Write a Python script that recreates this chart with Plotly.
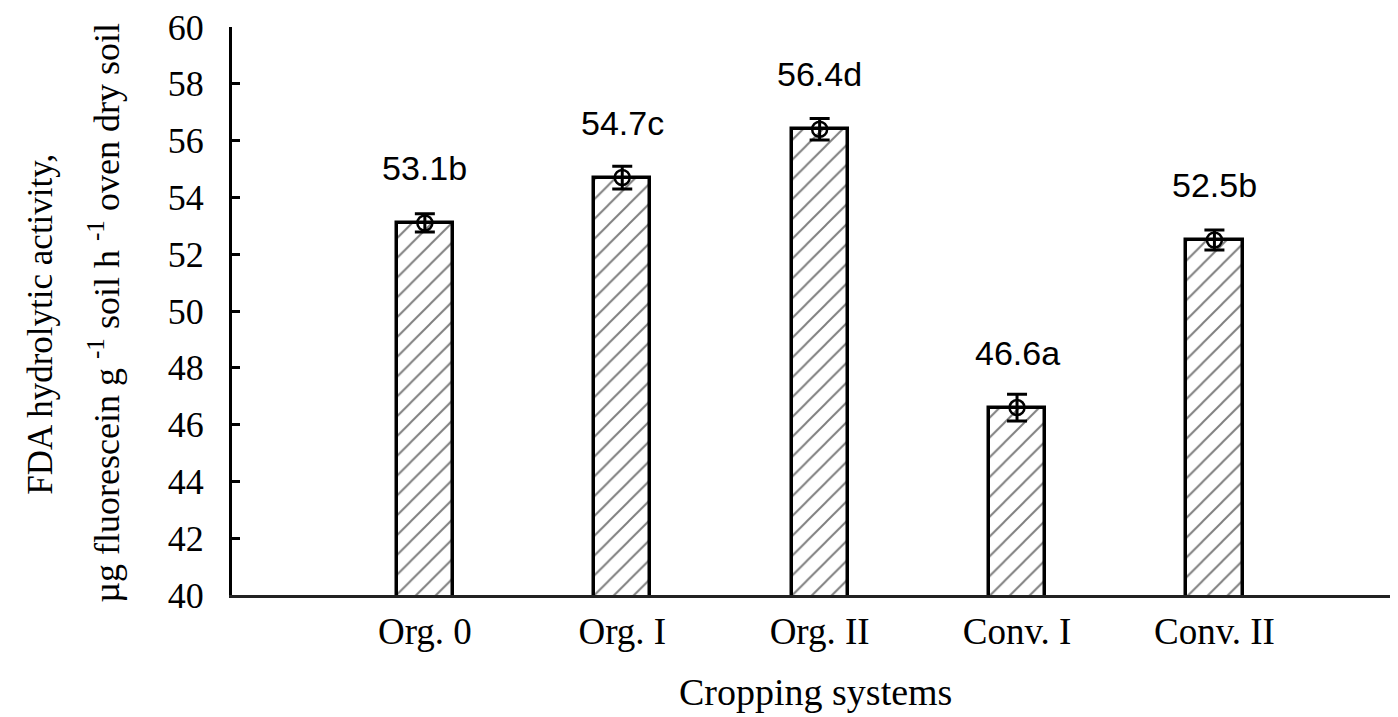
import plotly.graph_objects as go

categories = ["Org. 0", "Org. I", "Org. II", "Conv. I", "Conv. II"]
values = [53.1, 54.7, 56.4, 46.6, 52.5]
errors = [0.32, 0.40, 0.38, 0.47, 0.35]
letters = ["b", "c", "d", "a", "b"]
y_ticks = list(range(40, 61, 2))

xpos = list(range(len(categories)))

SERIF = "Liberation Serif, Times New Roman, serif"
SANS = "Liberation Sans, Arial, sans-serif"

fig = go.Figure()
fig.add_trace(go.Bar(
    x=xpos, y=values, width=0.285,
    marker=dict(color="white",
                line=dict(color="black", width=3.5),
                pattern=dict(shape="/", fgcolor="black", bgcolor="white",
                             size=14, solidity=0.14)),
    showlegend=False, hoverinfo="skip",
))
fig.add_trace(go.Scatter(
    x=xpos, y=values, mode="markers",
    marker=dict(symbol="circle-open", size=15, color="black",
                line=dict(color="black", width=2.5)),
    error_y=dict(type="data", array=errors, visible=True,
                 color="black", thickness=3, width=10),
    showlegend=False, hoverinfo="skip",
))

for i, (v, l) in enumerate(zip(values, letters)):
    fig.add_annotation(x=xpos[i], y=v, text=f"{v:.1f}{l}", showarrow=False,
                       yanchor="middle", yshift=55,
                       font=dict(family=SANS, size=34, color="black"))

fig.add_annotation(xref="paper", yref="paper", x=-0.1638, y=0.476,
                   text="FDA hydrolytic activity,", textangle=-90,
                   showarrow=False, xanchor="center", yanchor="middle",
                   font=dict(family=SERIF, size=35, color="black"))
fig.add_annotation(xref="paper", yref="paper", x=-0.1089, y=0.497,
                   text="µg fluorescein g <sup>-1</sup> soil h <sup>-1</sup> oven dry soil",
                   textangle=-90,
                   showarrow=False, xanchor="center", yanchor="middle",
                   font=dict(family=SERIF, size=36, color="black"))
fig.add_annotation(xref="paper", yref="paper", x=0.5, y=-0.171,
                   text="Cropping systems", showarrow=False,
                   xanchor="center", yanchor="middle",
                   font=dict(family=SERIF, size=38, color="black"))

# page has an 8px body margin, so the figure is shrunk by that amount
fig.update_layout(
    width=1390, height=709,
    margin=dict(l=224, r=0, t=14, b=122),
    paper_bgcolor="white", plot_bgcolor="white",
    bargap=0,
)
fig.update_xaxes(
    range=[-0.977, 4.93], tickmode="array", tickvals=xpos, ticktext=categories,
    showline=True, linecolor="#222222", linewidth=2.5, ticks="",
    showgrid=False, zeroline=False, ticklabelstandoff=2,
    tickfont=dict(family=SERIF, size=37, color="black"),
)
fig.update_yaxes(
    range=[40, 60], tickmode="array", tickvals=y_ticks,
    showline=True, linecolor="black", linewidth=3,
    ticks="inside", ticklen=8, tickwidth=3, tickcolor="black",
    showgrid=False, zeroline=False, ticklabelstandoff=18,
    ticklabeloverflow="allow",
    tickfont=dict(family=SERIF, size=36, color="black"),
)

fig.write_html("out.html")
